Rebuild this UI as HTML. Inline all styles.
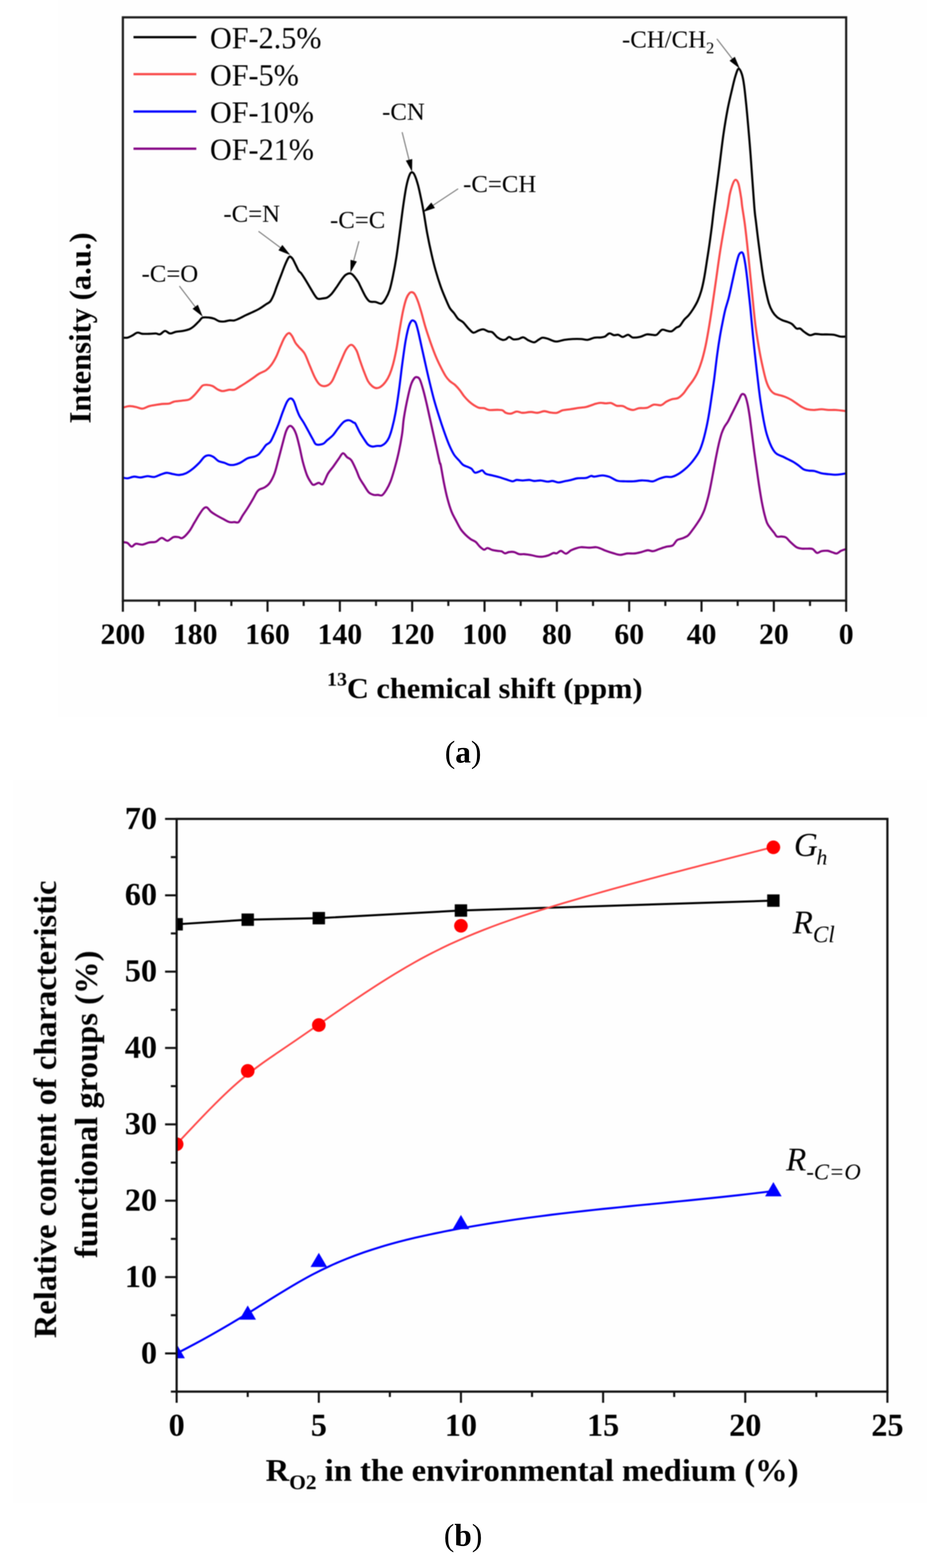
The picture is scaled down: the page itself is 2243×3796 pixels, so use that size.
<!DOCTYPE html>
<html lang="en"><head><meta charset="utf-8"><title>13C NMR spectra and functional group content</title>
<style>
html,body{margin:0;padding:0;background:#fff;}
body{width:2243px;height:3796px;overflow:hidden;}
svg{display:block;}
text{font-family:"Liberation Serif","Times New Roman",serif;fill:#000;}
.b{font-weight:bold;}
.i{font-style:italic;}
.cap{font-family:"Liberation Serif","DejaVu Serif",serif;}
</style></head><body>
<svg width="2243" height="3796" viewBox="0 0 2243 3796" role="img" aria-label="Figure: 13C NMR spectra (a) and relative content of characteristic functional groups (b)">
<rect x="0" y="0" width="2243" height="3796" fill="#ffffff"/>
<rect x="141" y="0" width="2102" height="1737" fill="#fefefe"/>
<rect x="32" y="1888" width="2211" height="1750" fill="#fefefe"/>
<defs><filter id="soft" filterUnits="userSpaceOnUse" x="0" y="0" width="2243" height="3796" color-interpolation-filters="sRGB"><feGaussianBlur stdDeviation="0.8"/></filter></defs>
<g id="chart-a" filter="url(#soft)">
<clipPath id="clipA"><rect x="297.3" y="42" width="1750.1" height="1412"/></clipPath>
<g clip-path="url(#clipA)" fill="none" stroke-width="5.1" stroke-linejoin="round" stroke-linecap="round">
<path d="M296.2 1312.4C298.2 1312.7 304.6 1312.6 308.3 1314.4C312 1316.2 315 1323 318.4 1323.3C321.8 1323.7 324.1 1317.3 328.5 1316.4C332.9 1315.6 339.3 1319 344.7 1318.5C350.1 1317.9 355.5 1314.4 360.9 1313.2C366.3 1312.1 372 1313.4 377 1311.6C382.1 1309.8 386.5 1302.7 391.2 1302.3C395.9 1301.9 400.6 1309.5 405.3 1309.2C410.1 1308.8 415.1 1301.8 419.5 1300.3C423.9 1298.8 427.9 1299.9 431.6 1300.3C435.3 1300.6 437.3 1304.6 441.7 1302.3C446.1 1299.9 453.2 1292.2 457.9 1286.1C462.6 1280.1 466 1272.6 470 1265.9C474.1 1259.2 478.5 1251.4 482.2 1245.7C485.9 1240 489.2 1234.4 492.3 1231.5C495.3 1228.6 497.3 1227.1 500.4 1228.3C503.4 1229.5 506.8 1235.7 510.5 1238.8C514.2 1241.9 517.9 1244.1 522.6 1246.9C527.3 1249.7 533.4 1253 538.8 1255.8C544.2 1258.6 550.2 1262.5 554.9 1263.9C559.6 1265.2 563.4 1263.9 567.1 1263.9C570.8 1263.9 573.8 1266.6 577.2 1263.9C580.5 1261.2 583.6 1253.4 587.3 1247.7C591 1242 595.4 1235.9 599.4 1229.5C603.5 1223.1 607.8 1215.7 611.5 1209.3C615.2 1202.9 618.9 1195.1 621.6 1191.1C624.3 1187.1 624.7 1186.9 627.7 1185C630.7 1183.2 635.8 1182.7 639.8 1180.2C643.9 1177.7 647.9 1175.7 652 1170.1C656 1164.5 660.4 1156.6 664.1 1146.6C667.8 1136.7 670.8 1122.7 674.2 1110.2C677.6 1097.8 681.3 1083 684.3 1071.8C687.3 1060.7 689.7 1050.3 692.4 1043.5C695.1 1036.8 697.8 1032.7 700.5 1031.4C703.2 1030.1 705.9 1032.1 708.6 1035.4C711.3 1038.8 714 1043.9 716.7 1051.6C719.4 1059.4 722 1070.8 724.7 1081.9C727.4 1093.1 729.8 1106.9 732.8 1118.3C735.9 1129.8 739.6 1142.3 742.9 1150.7C746.3 1159.1 750.4 1165 753 1168.9C755.7 1172.7 756.1 1173.7 759.1 1173.7C762.1 1173.7 767.5 1169.2 771.2 1168.9C774.9 1168.5 777.6 1175.4 781.3 1171.7C785.1 1168 789.4 1153.5 793.5 1146.6C797.5 1139.8 801.2 1136.5 805.6 1130.5C810 1124.4 815.7 1115.8 819.8 1110.2C823.8 1104.7 826.5 1097.8 829.9 1097.3C833.2 1096.8 836.6 1104.2 840 1107C843.3 1109.8 846.4 1109 850.1 1114.3C853.8 1119.5 858.9 1131.3 862.2 1138.5C865.5 1145.8 867.1 1151.8 870.1 1157.7C873.1 1163.6 876.5 1168.1 880.2 1173.9C883.9 1179.6 888.3 1188 892.3 1192C896.4 1196.1 900.8 1197.1 904.5 1198.1C908.2 1199.1 911.2 1198 914.6 1198.1C918 1198.2 921.3 1200.9 924.7 1198.9C928.1 1196.9 931.4 1191.5 934.8 1186C938.2 1180.5 941.5 1174.5 944.9 1165.8C948.3 1157 951.6 1145.6 955 1133.4C958.4 1121.3 962.1 1107.1 965.1 1093C968.2 1078.8 971.2 1062.1 973.2 1048.5C975.2 1034.9 974.9 1026.5 977.3 1011.5C979.6 996.6 984.3 972.8 987.4 959C990.4 945.2 992.7 936.1 995.4 928.7C998.1 921.2 1001.2 917.1 1003.5 914.5C1005.9 911.9 1007.6 912.6 1009.6 913.3C1011.6 914 1013.3 913.6 1015.7 918.5C1018 923.5 1021.1 933.4 1023.7 942.8C1026.4 952.2 1029.1 963.7 1031.8 975.1C1034.5 986.6 1037.2 999.4 1039.9 1011.5C1042.6 1023.7 1045.3 1035.8 1048 1047.9C1050.7 1060.1 1053.4 1072.2 1056.1 1084.3C1058.8 1096.4 1062.5 1113.9 1064.2 1120.7C1065.9 1127.5 1064.5 1117.2 1066.2 1125.3C1067.9 1133.5 1071.6 1156.3 1074.3 1169.8C1077 1183.3 1079.3 1194.7 1082.4 1206.2C1085.4 1217.7 1089.1 1229.8 1092.5 1238.5C1095.8 1247.3 1098.9 1251.7 1102.6 1258.8C1106.3 1265.8 1110.7 1274.9 1114.7 1281C1118.8 1287.1 1122.8 1291.1 1126.8 1295.1C1130.9 1299.2 1134.9 1302.4 1139 1305.3C1143 1308.1 1147.4 1309.1 1151.1 1312.1C1154.8 1315.2 1157.8 1320.4 1161.2 1323.5C1164.6 1326.5 1168.3 1330.2 1171.3 1330.7C1174.4 1331.3 1176 1326.5 1179.4 1326.7C1182.8 1326.8 1187.5 1330.4 1191.5 1331.5C1195.6 1332.7 1200 1333 1203.7 1333.6C1207.4 1334.1 1210.7 1333.8 1213.8 1334.8C1216.8 1335.8 1218.8 1339.4 1221.9 1339.6C1224.9 1339.9 1228.3 1336.9 1232 1336.4C1235.7 1335.8 1240.1 1335.5 1244.1 1336.4C1248.1 1337.3 1252.2 1340.8 1256.2 1341.6C1260.3 1342.5 1263.6 1341.3 1268.4 1341.6C1273.1 1342 1279.5 1342.8 1284.5 1343.7C1289.6 1344.5 1294 1346.2 1298.7 1346.9C1303.4 1347.6 1308.1 1348.1 1312.8 1347.7C1317.5 1347.3 1322.6 1346 1327 1344.5C1331.4 1343 1335.7 1339.6 1339.1 1338.8C1342.5 1338 1344.2 1340.5 1347.2 1339.6C1350.2 1338.7 1353.6 1333.4 1357.3 1333.6C1361 1333.7 1365.4 1340.6 1369.4 1340.4C1373.5 1340.2 1377.5 1334.5 1381.6 1332.3C1385.6 1330.2 1389.6 1328.8 1393.7 1327.5C1397.7 1326.2 1400.4 1324.9 1405.8 1324.7C1411.2 1324.4 1420 1325.9 1426 1325.9C1432.1 1325.9 1437.7 1324.3 1442.2 1324.7C1446.7 1325 1449 1326.4 1452.9 1327.8C1456.9 1329.3 1460.8 1331.6 1465.9 1333.4C1470.9 1335.3 1477.4 1337.4 1483.1 1339C1488.9 1340.7 1494.6 1343.2 1500.4 1343.3C1506.1 1343.5 1511.9 1340.5 1517.6 1339.9C1523.4 1339.3 1529.1 1340.5 1534.9 1339.9C1540.6 1339.3 1546.7 1337.7 1552.1 1336.4C1557.5 1335.1 1562.6 1332.5 1567.2 1332.1C1571.9 1331.8 1575.5 1334.8 1580.2 1334.3C1584.8 1333.8 1589.9 1330.9 1595.3 1329.1C1600.6 1327.3 1607.1 1324.9 1612.5 1323.5C1617.9 1322.1 1623.3 1323.1 1627.6 1320.5C1631.9 1317.8 1634.4 1310.4 1638.4 1307.5C1642.3 1304.7 1647 1305 1651.3 1303.2C1655.6 1301.4 1660.3 1300 1664.3 1296.8C1668.2 1293.5 1671.4 1288.5 1675 1283.8C1678.6 1279.2 1682.2 1274.1 1685.8 1268.7C1689.4 1263.3 1693.4 1257.6 1696.6 1251.5C1699.8 1245.4 1702.4 1240.3 1705.2 1232.1C1708.1 1223.8 1711.3 1211.9 1713.9 1201.9C1716.4 1191.8 1718.2 1182.5 1720.3 1171.7C1722.5 1160.9 1724.6 1148.7 1726.8 1137.2C1728.9 1125.7 1731.1 1113.5 1733.3 1102.7C1735.4 1091.9 1737.6 1081.5 1739.7 1072.5C1741.9 1063.5 1744 1055.3 1746.2 1048.8C1748.4 1042.3 1750.2 1038.4 1752.7 1033.7C1755.2 1029 1758.4 1025.8 1761.3 1020.8C1764.2 1015.7 1767 1009.3 1769.9 1003.5C1772.8 997.8 1775.7 992 1778.5 986.3C1781.4 980.5 1784.7 974 1787.2 969C1789.7 964 1791.8 958.6 1793.6 956.1C1795.4 953.5 1796.4 953.5 1798 953.9C1799.5 954.3 1801.3 954.3 1803.1 958.2C1804.9 962.2 1806.9 969.4 1808.7 977.6C1810.5 985.9 1812.1 995.6 1813.9 1007.8C1815.7 1020 1817.6 1036.6 1819.5 1050.9C1821.4 1065.3 1823.2 1079.7 1825.1 1094.1C1827.1 1108.4 1829.2 1123.5 1831.2 1137.2C1833.1 1150.9 1834.8 1163.1 1836.8 1176C1838.8 1188.9 1841.1 1203.3 1843.2 1214.8C1845.4 1226.3 1847.5 1236.4 1849.7 1245C1851.9 1253.6 1853.7 1260.8 1856.2 1266.6C1858.7 1272.3 1861.9 1275.6 1864.8 1279.5C1867.7 1283.5 1870.9 1287.1 1873.4 1290.3C1875.9 1293.5 1877 1297.5 1879.9 1298.9C1882.8 1300.4 1887.1 1298.6 1890.7 1298.9C1894.3 1299.3 1897.9 1298.9 1901.5 1301.1C1905 1303.2 1907.9 1307.9 1912.2 1311.9C1916.5 1315.8 1922.7 1322.1 1927.3 1324.8C1932 1327.5 1936 1327.7 1940.3 1328.2C1944.6 1328.8 1948.9 1328.1 1953.2 1328.2C1957.5 1328.4 1962.2 1327.4 1966.1 1329.1C1970.1 1330.8 1973.3 1337.7 1976.9 1338.6C1980.5 1339.5 1983.4 1335.1 1987.7 1334.3C1992 1333.4 1998.5 1333 2002.8 1333.4C2007.1 1333.9 2010 1335.8 2013.6 1336.9C2017.2 1338 2020.8 1340.5 2024.4 1339.9C2028 1339.3 2031.3 1335.2 2035.1 1333.4C2039 1331.6 2045.2 1329.8 2047.2 1329.1" stroke="#850585"/>
<path d="M296.2 1155.9C298.2 1156.3 303.6 1158.3 308.3 1158C313 1157.6 319.1 1154.2 324.5 1153.9C329.9 1153.6 335.3 1156.1 340.6 1155.9C346 1155.7 351.4 1152.9 356.8 1152.7C362.2 1152.5 367.6 1155.4 373 1154.7C378.4 1154 384.1 1150.3 389.2 1148.7C394.2 1147 398.6 1144.8 403.3 1144.6C408 1144.4 412.4 1146.6 417.5 1147.4C422.5 1148.3 428.2 1150.1 433.6 1149.9C439 1149.6 444.4 1148.2 449.8 1145.8C455.2 1143.4 460.6 1139.6 466 1135.3C471.4 1131.1 477.4 1125.2 482.2 1120.4C486.9 1115.5 490.6 1109.2 494.3 1106.2C498 1103.2 500.7 1102.2 504.4 1102.2C508.1 1102.2 512.5 1103.8 516.5 1106.2C520.6 1108.6 524.3 1113.9 528.7 1116.3C533 1118.7 538.4 1118.9 542.8 1120.4C547.2 1121.8 550.9 1124.4 554.9 1125.2C559 1126 562.7 1126 567.1 1125.2C571.4 1124.4 575.8 1123 581.2 1120.4C586.6 1117.7 593.7 1111.9 599.4 1109.4C605.1 1106.9 611.2 1106.9 615.6 1105.4C620 1103.8 622.3 1103 625.7 1100.1C629.1 1097.2 632.8 1091.8 635.8 1088C638.8 1084.2 640.8 1080.1 643.9 1077.1C646.9 1074.1 650.6 1074.4 654 1069.8C657.4 1065.2 660.7 1057 664.1 1049.6C667.5 1042.2 670.8 1034.1 674.2 1025.3C677.6 1016.6 680.9 1005.8 684.3 997C687.7 988.3 691.4 978.2 694.4 972.8C697.5 967.4 699.8 965 702.5 964.7C705.2 964.4 707.9 966 710.6 970.8C713.3 975.5 716.3 986.9 718.7 993C721 999.1 722 1002.1 724.7 1007.1C727.4 1012.2 731.5 1017.6 734.9 1023.3C738.2 1029 741.3 1034.8 745 1041.5C748.7 1048.2 753.7 1058 757.1 1063.7C760.5 1069.5 761.1 1074.1 765.2 1075.9C769.2 1077.7 777 1076.3 781.3 1074.7C785.7 1073 787.4 1069.3 791.5 1065.8C795.5 1062.3 801.2 1058.4 805.6 1053.6C810 1048.9 813.4 1042.9 817.7 1037.5C822.1 1032.1 827.5 1024.7 831.9 1021.3C836.3 1017.9 840 1016.9 844 1017.3C848.1 1017.6 853.5 1021.9 856.1 1023.3C858.8 1024.7 857.7 1021.9 860 1025.7C862.3 1029.5 866.7 1039.8 870.1 1045.9C873.5 1052 876.8 1057 880.2 1062.1C883.6 1067.1 887 1073.1 890.3 1076.2C893.7 1079.4 896.7 1080.5 900.4 1081.1C904.1 1081.6 908.9 1079.8 912.6 1079.5C916.3 1079.1 919.3 1080.3 922.7 1079.1C926 1077.8 929.7 1075.4 932.8 1072.2C935.8 1069 938.2 1066.1 940.9 1060.1C943.6 1054 946.3 1045.9 948.9 1035.8C951.6 1025.7 954.3 1014.2 957 999.4C959.7 984.6 962.4 966.4 965.1 946.8C967.8 927.3 970.5 902.4 973.2 882.2C975.9 861.9 978.6 841.1 981.3 825.6C984 810.1 987 797.3 989.4 789.2C991.7 781.1 993.8 779.3 995.4 777C997.1 774.8 997.8 775.1 999.5 775.8C1001.2 776.5 1003.5 776.8 1005.6 781.1C1007.6 785.3 1009.3 791.9 1011.6 801.3C1014 810.7 1017 825.6 1019.7 837.7C1022.4 849.8 1024.8 860.6 1027.8 874.1C1030.8 887.5 1034.2 903 1037.9 918.5C1041.6 934 1046 952.2 1050 967.1C1054.1 981.9 1058.1 994.7 1062.2 1007.5C1066.2 1020.3 1070.2 1032.4 1074.3 1043.9C1078.3 1055.3 1082.4 1066.8 1086.4 1076.2C1090.5 1085.7 1094.5 1094.1 1098.5 1100.5C1102.6 1106.9 1107 1110.5 1110.7 1114.6C1114.4 1118.8 1117.1 1122.9 1120.8 1125.6C1124.5 1128.2 1129.5 1129.3 1132.9 1130.8C1136.3 1132.4 1138.3 1132.6 1141 1134.9C1143.7 1137.1 1146.1 1143 1149.1 1144.2C1152.1 1145.3 1156.2 1142.6 1159.2 1141.7C1162.2 1140.8 1164.6 1138 1167.3 1138.9C1170 1139.8 1171.3 1145 1175.4 1147C1179.4 1149 1186.1 1149.7 1191.5 1151C1196.9 1152.4 1202.3 1153.5 1207.7 1155.1C1213.1 1156.6 1218.5 1158.6 1223.9 1160.3C1229.3 1162 1235.7 1164.9 1240.1 1165.2C1244.4 1165.4 1246.1 1162.3 1250.2 1161.9C1254.2 1161.6 1259.3 1163.2 1264.3 1163.2C1269.4 1163.2 1275.8 1161.7 1280.5 1161.9C1285.2 1162.1 1287.9 1164.2 1292.6 1164.4C1297.3 1164.6 1303.4 1162.9 1308.8 1163.2C1314.2 1163.4 1320.2 1165.8 1325 1166C1329.7 1166.2 1332.7 1164 1337.1 1164.4C1341.5 1164.7 1346.5 1167.9 1351.2 1168C1356 1168.1 1360.3 1166.2 1365.4 1165.2C1370.4 1164.2 1376.2 1163.2 1381.6 1161.9C1387 1160.7 1391.7 1158.7 1397.7 1157.9C1403.8 1157.1 1412.6 1158 1418 1157.1C1423.3 1156.1 1426.7 1152.8 1430.1 1152.2C1433.5 1151.7 1433.6 1154.1 1438.2 1153.9C1442.7 1153.6 1451.2 1150.9 1457.3 1151C1463.3 1151.1 1468.4 1152.3 1474.5 1154.4C1480.6 1156.6 1487.4 1162.1 1493.9 1163.9C1500.4 1165.7 1506.8 1165 1513.3 1165.2C1519.8 1165.4 1526.3 1165.6 1532.7 1165.2C1539.2 1164.9 1546.4 1163.3 1552.1 1163.1C1557.9 1162.9 1562.6 1163.6 1567.2 1163.9C1571.9 1164.3 1575.5 1166.1 1580.2 1165.2C1584.8 1164.4 1590.2 1160.6 1595.3 1158.8C1600.3 1157 1605.3 1155.2 1610.4 1154.4C1615.4 1153.7 1620.4 1155.5 1625.4 1154.4C1630.5 1153.4 1635.5 1150.9 1640.5 1148C1645.6 1145.1 1651 1141 1655.6 1137.2C1660.3 1133.4 1664.3 1129.8 1668.6 1125.1C1672.9 1120.4 1677.6 1114.7 1681.5 1109.2C1685.5 1103.6 1689.1 1098.7 1692.3 1091.9C1695.5 1085.1 1698 1077.9 1700.9 1068.2C1703.8 1058.5 1707 1045.2 1709.5 1033.7C1712.1 1022.2 1713.9 1012.1 1716 999.2C1718.2 986.3 1720.5 969.7 1722.5 956.1C1724.5 942.4 1725.9 933.6 1728.1 917.3C1730.2 900.9 1733.1 875 1735.4 858C1737.7 840.9 1739.7 827.8 1741.9 814.8C1744 801.9 1746.2 791.1 1748.4 780.3C1750.5 769.5 1752.3 760.2 1754.8 750.1C1757.3 740.1 1760.6 731.4 1763.5 719.9C1766.3 708.4 1769.2 694.1 1772.1 681.1C1775 668.2 1778.2 652.7 1780.7 642.3C1783.2 631.9 1785.2 623.8 1787.2 618.6C1789.2 613.4 1791 612 1792.8 611.3C1794.6 610.5 1796.2 609.8 1798 614.3C1799.7 618.7 1801.3 626.9 1803.1 638C1804.9 649.1 1806.7 663.9 1808.7 681.1C1810.7 698.4 1813 719.9 1815.2 741.5C1817.4 763.1 1819.5 788.9 1821.7 810.5C1823.8 832.1 1825.8 849.5 1828.1 870.9C1830.5 892.3 1833.7 921 1835.9 938.8C1838.1 956.6 1839.1 964.7 1841.1 977.6C1843 990.6 1845.4 1004.9 1847.5 1016.4C1849.7 1027.9 1851.5 1037.3 1854 1046.6C1856.5 1056 1859.8 1065.3 1862.6 1072.5C1865.5 1079.7 1868.4 1085.3 1871.3 1089.8C1874.1 1094.2 1876.3 1096.7 1879.9 1099.2C1883.5 1101.8 1888.5 1102.8 1892.8 1104.9C1897.1 1106.9 1901.5 1109.2 1905.8 1111.3C1910.1 1113.5 1914.4 1115.3 1918.7 1117.8C1923 1120.3 1927.3 1123.3 1931.6 1126.4C1936 1129.5 1940.3 1134.2 1944.6 1136.3C1948.9 1138.5 1953.2 1138.7 1957.5 1139.4C1961.8 1140 1965.4 1139.1 1970.5 1140.2C1975.5 1141.3 1982 1144.5 1987.7 1145.8C1993.5 1147.1 1999.2 1147.4 2005 1148C2010.7 1148.6 2017.2 1149.3 2022.2 1149.3C2027.2 1149.3 2031 1148.6 2035.1 1148C2039.3 1147.4 2045.2 1146.2 2047.2 1145.8" stroke="#0000ff"/>
<path d="M296.2 987.2C298.9 986.5 307 983.5 312.3 983.2C317.7 982.8 323.1 984.2 328.5 985.2C333.9 986.2 339.3 989.6 344.7 989.2C350.1 988.9 355.5 984.6 360.9 983.2C366.3 981.7 371.6 981.2 377 980.3C382.4 979.4 387.8 978.4 393.2 977.9C398.6 977.4 404.7 978 409.4 977.1C414.1 976.1 416.1 973.5 421.5 972.2C426.9 971 435.7 970.7 441.7 969.8C447.8 968.9 453.2 969.1 457.9 967C462.6 964.8 466 960.9 470 956.9C474.1 952.8 478.8 946.6 482.2 942.7C485.5 938.8 487.2 935.2 490.2 933.4C493.3 931.6 496.3 931.6 500.4 931.8C504.4 932 510.1 932.8 514.5 934.6C518.9 936.5 522.6 940.7 526.6 942.7C530.7 944.7 534 946.6 538.8 946.8C543.5 946.9 550.2 944.1 554.9 943.5C559.6 943 563 944.7 567.1 943.5C571.1 942.4 574.5 939.5 579.2 936.7C583.9 933.8 590 930.1 595.4 926.5C600.8 923 606.1 919.3 611.5 915.6C616.9 911.9 622.3 907.5 627.7 904.3C633.1 901.1 639.2 899.6 643.9 896.2C648.6 892.9 652 889.5 656 884.1C660.1 878.7 664.4 871.3 668.1 863.9C671.8 856.5 674.9 847.4 678.2 839.6C681.6 831.9 685 822.9 688.4 817.4C691.7 811.9 695.4 807.1 698.5 806.5C701.5 805.8 703.9 809.5 706.5 813.3C709.2 817.2 711.9 825.1 714.6 829.5C717.3 833.9 719 835.2 722.7 839.6C726.4 844 732.5 848.4 736.9 855.8C741.3 863.2 745 874.7 749 884.1C753 893.5 757.4 905 761.1 912.4C764.8 919.8 767.9 924.9 771.2 928.6C774.6 932.3 777.6 934 781.3 934.6C785.1 935.3 789.8 934.6 793.5 932.6C797.2 930.6 800.2 927.9 803.6 922.5C807 917.1 810 908.7 813.7 900.3C817.4 891.8 821.8 881.1 825.8 872C829.9 862.9 833.9 851.9 838 845.7C842 839.5 846 834.4 850.1 834.8C854.1 835.1 858.9 841.8 862.2 847.7C865.5 853.6 867.1 861.6 870.1 870C873.1 878.5 876.8 889.6 880.2 898.3C883.6 907.1 887 916.5 890.3 922.6C893.7 928.7 897.1 931.9 900.4 934.7C903.8 937.5 907.2 939.2 910.5 939.6C913.9 939.9 916.9 939.2 920.6 936.7C924.4 934.2 929.1 929.7 932.8 924.6C936.5 919.6 939.9 913.5 942.9 906.4C945.9 899.3 948.3 892.3 951 882.2C953.7 872 956.4 859.9 959.1 845.8C961.8 831.6 964.4 812.7 967.1 797.3C969.8 781.8 972.5 765.2 975.2 752.8C977.9 740.3 980.6 729.7 983.3 722.5C986 715.2 989 711.6 991.4 709.1C993.8 706.6 995.4 707 997.5 707.5C999.5 708 1001.2 708.5 1003.5 712.3C1005.9 716.2 1008.9 723.1 1011.6 730.5C1014.3 738 1016.7 746.4 1019.7 756.8C1022.7 767.3 1026.1 781.1 1029.8 793.2C1033.5 805.3 1037.9 818.1 1041.9 829.6C1046 841.1 1050 852.2 1054.1 861.9C1058.1 871.7 1062.2 880.1 1066.2 888.2C1070.2 896.3 1074.6 904.7 1078.3 910.5C1082 916.2 1084.7 919.1 1088.4 922.6C1092.1 926.1 1096.5 927.8 1100.6 931.5C1104.6 935.2 1109 940.2 1112.7 944.8C1116.4 949.4 1119.1 954.5 1122.8 959C1126.5 963.5 1130.9 968.2 1134.9 971.9C1139 975.6 1143 978.7 1147.1 981.2C1151.1 983.8 1155.1 986.1 1159.2 987.3C1163.2 988.4 1167.3 987.2 1171.3 988.1C1175.4 989 1178.1 991.9 1183.5 992.5C1188.8 993.2 1198.3 992 1203.7 992.1C1209.1 992.3 1212.4 992.1 1215.8 993.3C1219.2 994.6 1220.5 998.1 1223.9 999.4C1227.3 1000.8 1231.6 1002 1236 1001.4C1240.4 1000.9 1245.4 996.5 1250.2 996.2C1254.9 995.8 1258.6 999.2 1264.3 999.4C1270 999.6 1278.5 997.4 1284.5 997.4C1290.6 997.4 1295.3 999.7 1300.7 999.4C1306.1 999.1 1311.8 995.5 1316.9 995.4C1321.9 995.2 1326 997.9 1331 998.6C1336.1 999.3 1342.1 1000.3 1347.2 999.4C1352.3 998.5 1355.6 994.8 1361.3 993.3C1367.1 991.9 1374.8 991.5 1381.6 990.5C1388.3 989.5 1395.7 988.2 1401.8 987.3C1407.8 986.4 1412.6 986.5 1418 985.3C1423.3 984 1430.4 981.2 1434.1 980C1437.8 978.8 1436.9 978.6 1440 977.8C1443.1 977.1 1448.6 975.5 1452.9 975.3C1457.3 975 1461.6 976.5 1465.9 976.5C1470.2 976.6 1474.5 974.8 1478.8 975.7C1483.1 976.6 1487.1 980.9 1491.8 982.2C1496.4 983.4 1502.2 981.8 1506.8 983C1511.5 984.2 1515.5 987.9 1519.8 989.5C1524.1 991.1 1528.4 992.7 1532.7 992.5C1537 992.3 1540.3 989.1 1545.7 988.2C1551.1 987.3 1559 988.8 1565.1 987.3C1571.2 985.9 1576.6 980.6 1582.3 979.6C1588.1 978.5 1594.5 982.1 1599.6 980.9C1604.6 979.6 1608.2 974.6 1612.5 972.2C1616.8 969.9 1620.8 968.1 1625.4 966.6C1630.1 965.2 1635.9 965.9 1640.5 963.6C1645.2 961.3 1649.5 957.1 1653.5 952.8C1657.4 948.5 1660.3 943.1 1664.3 937.7C1668.2 932.3 1673.2 926.6 1677.2 920.5C1681.2 914.4 1684.4 909.3 1688 901.1C1691.6 892.8 1695.5 881.7 1698.8 870.9C1702 860.1 1704.5 850 1707.4 836.4C1710.3 822.7 1713.1 806.2 1716 788.9C1718.9 771.7 1721.8 752.3 1724.6 732.9C1727.5 713.5 1730.4 692.6 1733.3 672.5C1736.1 652.4 1739 630.8 1741.9 612.1C1744.8 593.4 1747.3 579.1 1750.5 560.4C1753.7 541.7 1758.7 515.1 1761.3 500C1763.9 484.9 1763.9 479.1 1766 469.6C1768.1 460.1 1771.6 448.9 1773.9 443.2C1776.3 437.5 1778.1 434.9 1780.3 435.3C1782.5 435.7 1784.9 438.4 1787.1 445.8C1789.3 453.3 1792 471.1 1793.5 480.1C1794.9 489.2 1794.3 489.5 1795.8 500C1797.3 510.5 1800.1 526.6 1802.3 543.1C1804.4 559.7 1806.6 579.1 1808.7 599.2C1810.9 619.3 1813 642.3 1815.2 663.9C1817.4 685.4 1819.5 707.7 1821.7 728.6C1823.8 749.4 1825.6 769.5 1828.1 788.9C1830.7 808.4 1833.9 828.5 1836.8 845C1839.6 861.5 1842.5 875.2 1845.4 888.1C1848.3 901.1 1851.1 913.7 1854 922.6C1856.9 931.6 1859.4 937 1862.6 942C1865.9 947.1 1869.1 950.3 1873.4 952.8C1877.7 955.3 1883.8 955.7 1888.5 957.1C1893.2 958.6 1897.1 959.7 1901.5 961.5C1905.8 963.3 1910.1 965.4 1914.4 967.9C1918.7 970.4 1923 973.7 1927.3 976.5C1931.6 979.4 1936 982.8 1940.3 985.2C1944.6 987.5 1948.5 989.6 1953.2 990.8C1957.9 992 1962.6 992.5 1968.3 992.5C1974.1 992.5 1981.6 990.8 1987.7 990.8C1993.8 990.8 1999.2 992.2 2005 992.5C2010.7 992.8 2015.2 992.1 2022.2 992.5C2029.3 992.9 2043.1 994.7 2047.2 995.1" stroke="#f94a4a"/>
<path d="M296.2 817.4C298.2 817.4 304.3 818.3 308.3 817.4C312.3 816.5 316.4 814.2 320.4 812.1C324.5 810.1 328.5 805.9 332.6 805.3C336.6 804.6 340 807.6 344.7 808.1C349.4 808.6 355.5 808.2 360.9 808.1C366.3 808 372.7 807.1 377 807.3C381.4 807.5 383.4 810.3 387.1 809.3C390.8 808.3 395.2 801.5 399.3 801.2C403.3 800.9 407 806.9 411.4 807.3C415.8 807.6 420.5 804.2 425.6 803.2C430.6 802.2 436.3 802.2 441.7 801.2C447.1 800.2 453.2 799.2 457.9 797.2C462.6 795.1 466 792.5 470 789.1C474.1 785.7 478.8 780.3 482.2 777C485.5 773.6 486.2 770.2 490.2 768.9C494.3 767.5 501.7 768.4 506.4 768.9C511.1 769.3 514.5 770.2 518.5 771.7C522.6 773.2 526.6 776.7 530.7 777.8C534.7 778.8 538.8 778.5 542.8 778.2C546.8 777.8 550.9 776.1 554.9 775.7C559 775.3 563 776.5 567.1 775.7C571.1 774.9 574.5 773 579.2 770.9C583.9 768.7 590 765.4 595.4 762.8C600.8 760.2 606.1 758.1 611.5 755.5C616.9 753 622.3 750.6 627.7 747.4C633.1 744.3 639.5 739.5 643.9 736.5C648.3 733.6 651 733.4 654 729.6C657 725.9 659.4 720.6 662.1 714.3C664.8 708 667.1 700.1 670.2 692C673.2 684 676.9 674.5 680.3 665.8C683.6 657 687.3 646.6 690.4 639.5C693.4 632.4 696.4 626.3 698.5 623.3C700.5 620.3 700.8 620.6 702.5 621.3C704.2 622 706.2 623.7 708.6 627.4C710.9 631.1 714.3 638.8 716.7 643.5C719 648.2 720.7 652.6 722.7 655.7C724.7 658.7 726.4 658.7 728.8 661.7C731.1 664.8 733.5 668.5 736.9 673.9C740.2 679.2 745 687.3 749 694.1C753 700.8 757.8 709.4 761.1 714.3C764.5 719.1 765.8 721.8 769.2 723.2C772.6 724.5 777.6 722.8 781.3 722.4C785.1 721.9 788.1 722 791.5 720.4C794.8 718.7 797.9 716.3 801.6 712.3C805.3 708.2 809.6 701.8 813.7 696.1C817.7 690.4 822.1 683 825.8 677.9C829.5 672.8 832.6 668.5 835.9 665.8C839.3 663.1 843 661.7 846 661.7C849.1 661.7 850.8 662.4 854.1 665.8C857.5 669.1 863.3 677.3 866.3 681.9C869.3 686.5 869.1 687.4 872.1 693.3C875.1 699.3 880.6 711.5 884.3 717.6C888 723.7 890.3 727.5 894.4 729.7C898.4 732 903.8 730.1 908.5 730.9C913.2 731.8 918.6 736.2 922.7 735C926.7 733.8 929.4 729.3 932.8 723.7C936.1 718.1 939.9 710.9 942.9 701.4C945.9 692 948.3 680.2 951 667.1C953.7 653.9 956.4 639.8 959.1 622.6C961.8 605.4 964.4 584.2 967.1 564C969.8 543.7 972.5 520.2 975.2 501.3C977.9 482.4 980.6 463.9 983.3 450.8C986 437.6 989 428 991.4 422.5C993.8 416.9 995.4 416.9 997.5 417.2C999.5 417.5 1001.2 419.2 1003.5 424.5C1005.9 429.7 1008.9 438.6 1011.6 448.7C1014.3 458.8 1017.3 473.7 1019.7 485.1C1022.1 496.6 1023.4 504 1025.8 517.5C1028.1 530.9 1030.8 549.8 1033.9 566C1036.9 582.2 1040.6 599.7 1044 614.5C1047.3 629.3 1050.4 641.8 1054.1 654.9C1057.8 668.1 1062.2 681.9 1066.2 693.3C1070.2 704.8 1074.6 714.9 1078.3 723.7C1082 732.4 1085.1 740.2 1088.4 745.9C1091.8 751.6 1095.2 753.7 1098.5 758C1101.9 762.4 1104.9 768.5 1108.7 772.2C1112.4 775.9 1116.7 776.6 1120.8 780.3C1124.8 784 1128.9 790.2 1132.9 794.4C1137 798.6 1141 804.3 1145 805.3C1149.1 806.3 1153.1 801.8 1157.2 800.5C1161.2 799.1 1165.3 796.9 1169.3 797.3C1173.3 797.6 1177.7 801.3 1181.4 802.5C1185.1 803.7 1187.8 802.2 1191.5 804.5C1195.2 806.9 1199.6 813.6 1203.7 816.7C1207.7 819.7 1212.4 821.9 1215.8 822.7C1219.2 823.5 1221.2 822.7 1223.9 821.5C1226.6 820.4 1228.9 815.8 1232 815.8C1235 815.8 1238.4 820.7 1242.1 821.5C1245.8 822.3 1250.2 821.5 1254.2 820.7C1258.2 819.9 1262.3 816.1 1266.3 816.7C1270.4 817.2 1274.1 821.9 1278.5 823.9C1282.8 826 1288.6 829 1292.6 828.8C1296.7 828.6 1299.4 824.6 1302.7 822.7C1306.1 820.8 1309.1 817.9 1312.8 817.5C1316.5 817 1319.6 818.3 1325 819.9C1330.4 821.4 1338.4 826.3 1345.2 826.8C1351.9 827.2 1358.7 823.7 1365.4 822.7C1372.1 821.7 1378.9 821 1385.6 820.7C1392.3 820.4 1399.8 820.4 1405.8 820.7C1411.9 821 1416.6 823.3 1422 822.7C1427.4 822.2 1433 818.4 1438.2 817.5C1443.3 816.5 1448.7 817.4 1452.9 817C1457.2 816.5 1460.1 816.5 1463.7 814.8C1467.3 813.2 1470.9 807.6 1474.5 807.1C1478.1 806.5 1481.7 810.8 1485.3 811.4C1488.9 811.9 1492.5 809.8 1496.1 810.5C1499.7 811.2 1502.9 815.7 1506.8 815.7C1510.8 815.7 1515.8 810.3 1519.8 810.5C1523.7 810.7 1525.9 816.1 1530.6 817C1535.2 817.8 1542.1 816.9 1547.8 815.7C1553.6 814.5 1560 810.5 1565.1 809.6C1570.1 808.8 1574.1 810.4 1578 810.5C1582 810.7 1584.8 812.5 1588.8 810.5C1592.7 808.5 1597.4 800 1601.7 798.4C1606 796.9 1610.7 800.4 1614.7 801C1618.6 801.6 1621.9 803.2 1625.4 801.9C1629 800.6 1633 795.4 1636.2 793.3C1639.5 791.1 1641.6 792.2 1644.9 788.9C1648.1 785.7 1652 778.2 1655.6 773.9C1659.2 769.5 1662.8 767.4 1666.4 763.1C1670 758.8 1673.6 753.7 1677.2 748C1680.8 742.2 1684.7 735.8 1688 728.6C1691.2 721.4 1693.9 714.2 1696.6 704.9C1699.3 695.5 1701.6 685.1 1703.9 672.5C1706.3 659.9 1708.6 643.8 1710.8 629.4C1713.1 615 1715.4 599.9 1717.3 586.3C1719.2 572.6 1720.7 561.8 1722.5 547.4C1724.3 533.1 1725.2 522.6 1728.1 500C1730.9 477.4 1736 440.4 1739.6 411.5C1743.3 382.7 1746.7 351.8 1750.2 327.1C1753.7 302.5 1757.2 282.3 1760.7 263.8C1764.3 245.3 1768.2 229.5 1771.3 216.3C1774.4 203.1 1776.6 193 1779.2 184.7C1781.9 176.3 1784.5 167.1 1787.1 166.2C1789.8 165.3 1792.8 172.8 1795 179.4C1797.2 186 1798.6 193.5 1800.3 205.8C1802.1 218.1 1803.8 235.7 1805.6 253.3C1807.4 270.8 1809.1 291.1 1810.9 311.3C1812.6 331.5 1813.8 343.2 1816.1 374.6C1818.5 406.1 1822.9 472.6 1825.1 500C1827.3 527.4 1827.9 525.2 1829.4 538.8C1831 552.5 1832.8 567.6 1834.6 581.9C1836.4 596.3 1838.3 610.7 1840.2 625.1C1842.2 639.4 1844.2 655.3 1846.3 668.2C1848.3 681.1 1850.4 691.6 1852.7 702.7C1855.1 713.8 1857.8 726.4 1860.5 735C1863.2 743.7 1865.9 749.1 1869.1 754.4C1872.3 759.8 1875.9 763.9 1879.9 767.4C1883.8 770.8 1888.5 773.1 1892.8 775.1C1897.1 777.2 1901.8 777.9 1905.8 779.5C1909.7 781 1913 782 1916.5 784.6C1920.1 787.3 1924.1 793.6 1927.3 795.4C1930.6 797.2 1932.7 794 1936 795.4C1939.2 796.9 1942.8 801.4 1946.7 804C1950.7 806.7 1955.4 810.7 1959.7 811.4C1964 812.1 1967.9 808.6 1972.6 808.4C1977.3 808.1 1983 809.4 1987.7 809.6C1992.4 809.9 1995.6 809.5 2000.6 809.6C2005.7 809.8 2012.5 809.6 2017.9 810.5C2023.3 811.4 2028.1 814.1 2033 814.8C2037.9 815.5 2044.9 814.8 2047.2 814.8" stroke="#000000"/>
</g>
<rect x="297.3" y="42" width="1750.1" height="1412" fill="none" stroke="#1c1c1c" stroke-width="5.3"/>
<path d="M297.3 1454v27M384.8 1454v13M472.3 1454v27M559.8 1454v13M647.3 1454v27M734.8 1454v13M822.3 1454v27M909.8 1454v13M997.3 1454v27M1084.8 1454v13M1172.4 1454v27M1259.9 1454v13M1347.4 1454v27M1434.9 1454v13M1522.4 1454v27M1609.9 1454v13M1697.4 1454v27M1784.9 1454v13M1872.4 1454v27M1959.9 1454v13M2047.4 1454v27" stroke="#111" stroke-width="5" fill="none"/>
<g class="b" font-size="72" text-anchor="middle">
<text x="297.3" y="1558.5">200</text>
<text x="472.3" y="1558.5">180</text>
<text x="647.3" y="1558.5">160</text>
<text x="822.3" y="1558.5">140</text>
<text x="997.3" y="1558.5">120</text>
<text x="1172.4" y="1558.5">100</text>
<text x="1347.4" y="1558.5">80</text>
<text x="1522.4" y="1558.5">60</text>
<text x="1697.4" y="1558.5">40</text>
<text x="1872.4" y="1558.5">20</text>
<text x="2047.4" y="1558.5">0</text>
</g>
<text class="b" font-size="70" text-anchor="middle" transform="translate(1173 1689.5) scale(1.048 1)"><tspan font-size="46" dy="-30">13</tspan><tspan dy="30">C chemical shift (ppm)</tspan></text>
<text class="b" font-size="74" text-anchor="middle" transform="translate(219 794) rotate(-90)">Intensity (a.u.)</text>
<line x1="323" y1="90" x2="475" y2="90" stroke="#000000" stroke-width="5.3"/>
<text font-size="73" x="508" y="117">OF-2.5%</text>
<line x1="323" y1="179.5" x2="475" y2="179.5" stroke="#f94a4a" stroke-width="5.3"/>
<text font-size="73" x="508" y="206.5">OF-5%</text>
<line x1="323" y1="270" x2="475" y2="270" stroke="#0000ff" stroke-width="5.3"/>
<text font-size="73" x="508" y="297">OF-10%</text>
<line x1="323" y1="360" x2="475" y2="360" stroke="#850585" stroke-width="5.3"/>
<text font-size="73" x="508" y="387">OF-21%</text>
<text font-size="60" x="342.5" y="681.5">-C=O</text>
<line x1="434" y1="692.5" x2="472.3" y2="742.7" stroke="#7a7a7a" stroke-width="2.6"/>
<path d="M490.5 766.5L465.9 747.5L478.7 737.8Z" fill="#000"/>
<text font-size="60" x="540.5" y="537">-C=N</text>
<line x1="625.5" y1="560" x2="678.5" y2="599.5" stroke="#7a7a7a" stroke-width="2.6"/>
<path d="M702.5 617.5L673.7 606L683.2 593.1Z" fill="#000"/>
<text font-size="60" x="798.5" y="552">-C=C</text>
<line x1="868.5" y1="584" x2="855.8" y2="631" stroke="#7a7a7a" stroke-width="2.6"/>
<path d="M848 660L848.1 629L863.5 633.1Z" fill="#000"/>
<text font-size="60" x="924.5" y="290">-CN</text>
<line x1="973" y1="320" x2="989.7" y2="386.9" stroke="#7a7a7a" stroke-width="2.6"/>
<path d="M997 416L982 388.8L997.5 385Z" fill="#000"/>
<text font-size="60" x="1120.5" y="465">-C=CH</text>
<line x1="1108.5" y1="457" x2="1048" y2="497" stroke="#7a7a7a" stroke-width="2.6"/>
<path d="M1023 513.5L1043.6 490.3L1052.4 503.6Z" fill="#000"/>
<text font-size="60" x="1505" y="114.5">-CH/CH<tspan font-size="40" dy="14">2</tspan></text>
<line x1="1734.5" y1="94" x2="1771.7" y2="142.2" stroke="#7a7a7a" stroke-width="2.6"/>
<path d="M1790 166L1765.3 147.1L1778 137.4Z" fill="#000"/>
</g>
<text class="cap" font-size="76" text-anchor="middle" x="1120.5" y="1845.5">(<tspan class="b">a</tspan>)</text>
<g id="chart-b" filter="url(#soft)">
<clipPath id="clipB"><rect x="427.4" y="1982.5" width="1719.8" height="1386.5"/></clipPath>
<g clip-path="url(#clipB)">
<path d="M427.4 2237.6L599.4 2226.5L771.4 2222.8L1115.3 2204.3L1871.3 2180.3" fill="none" stroke="#000" stroke-width="4.9" stroke-linejoin="round"/>
<path d="M427.4 2769.7C434.3 2762.4 454.9 2740.4 468.6 2725.9C482.4 2711.5 496.1 2696.9 509.9 2683C523.6 2669.1 537.4 2655.4 551.1 2642.6C564.9 2629.8 578.6 2617.6 592.4 2606.3C606.1 2595.1 619.9 2584.9 633.6 2574.9C647.4 2564.9 661.1 2555.8 674.9 2546.3C688.6 2536.9 702.4 2527.6 716.1 2518.2C729.9 2508.7 743.6 2499.2 757.4 2489.7C771.1 2480.1 784.9 2470.6 798.6 2461.1C812.4 2451.6 826.1 2442.1 839.9 2432.8C853.6 2423.5 867.4 2414.2 881.1 2405.1C894.9 2396 908.6 2387 922.3 2378.3C936.1 2369.6 949.8 2361 963.6 2352.8C977.3 2344.5 991.1 2336.5 1004.8 2328.8C1018.6 2321.2 1032.3 2313.8 1046.1 2306.8C1059.8 2299.7 1073.6 2293.1 1087.3 2286.6C1101.1 2280.2 1114.8 2274.1 1128.6 2268.2C1142.3 2262.4 1156.1 2256.8 1169.8 2251.4C1183.6 2246 1197.3 2240.8 1211.1 2235.8C1224.8 2230.8 1238.6 2226.1 1252.3 2221.4C1266.1 2216.7 1279.8 2212.3 1293.6 2207.9C1307.3 2203.5 1321.1 2199.2 1334.8 2195C1348.6 2190.8 1362.3 2186.7 1376.1 2182.7C1389.8 2178.6 1403.5 2174.6 1417.3 2170.7C1431 2166.7 1444.8 2162.8 1458.5 2158.9C1472.3 2155 1486 2151.2 1499.8 2147.4C1513.5 2143.6 1527.3 2139.9 1541 2136.2C1554.8 2132.4 1568.5 2128.7 1582.3 2125.1C1596 2121.4 1609.8 2117.8 1623.5 2114.2C1637.3 2110.5 1651 2107 1664.8 2103.4C1678.5 2099.8 1692.3 2096.3 1706 2092.7C1719.8 2089.2 1733.5 2085.7 1747.3 2082.1C1761 2078.6 1774.8 2075.1 1788.5 2071.6C1802.3 2068.1 1816 2064.6 1829.8 2061.1C1843.5 2057.6 1864.1 2052.3 1871 2050.6" fill="none" stroke="#ff4a4a" stroke-width="4.4"/>
<path d="M427.4 3276.6C434.3 3273 454.9 3262.4 468.6 3255C482.4 3247.6 496.1 3240.1 509.9 3232.3C523.6 3224.6 537.4 3216.7 551.1 3208.6C564.9 3200.6 578.6 3192.3 592.4 3183.9C606.1 3175.6 619.9 3166.9 633.6 3158.4C647.4 3149.8 661.1 3141.1 674.9 3132.7C688.6 3124.2 702.4 3115.8 716.1 3107.8C729.9 3099.9 743.6 3092.1 757.4 3084.9C771.1 3077.7 784.9 3071 798.6 3064.7C812.4 3058.3 826.1 3052.5 839.9 3047C853.6 3041.5 867.4 3036.4 881.1 3031.6C894.9 3026.9 908.6 3022.5 922.3 3018.3C936.1 3014.1 949.8 3010.3 963.6 3006.6C977.3 3003 991.1 2999.6 1004.8 2996.4C1018.6 2993.2 1032.3 2990.2 1046.1 2987.3C1059.8 2984.4 1073.6 2981.7 1087.3 2979C1101.1 2976.3 1114.8 2973.8 1128.6 2971.4C1142.3 2968.9 1156.1 2966.6 1169.8 2964.3C1183.6 2962 1197.3 2959.9 1211.1 2957.8C1224.8 2955.7 1238.6 2953.6 1252.3 2951.7C1266.1 2949.8 1279.8 2947.9 1293.6 2946.1C1307.3 2944.3 1321.1 2942.5 1334.8 2940.8C1348.6 2939.1 1362.3 2937.5 1376.1 2935.9C1389.8 2934.3 1403.5 2932.8 1417.3 2931.3C1431 2929.7 1444.8 2928.3 1458.5 2926.8C1472.3 2925.4 1486 2924 1499.8 2922.6C1513.5 2921.2 1527.3 2919.8 1541 2918.4C1554.8 2917.1 1568.5 2915.7 1582.3 2914.4C1596 2913 1609.8 2911.7 1623.5 2910.3C1637.3 2909 1651 2907.6 1664.8 2906.2C1678.5 2904.8 1692.3 2903.5 1706 2902C1719.8 2900.6 1733.5 2899.2 1747.3 2897.7C1761 2896.2 1774.8 2894.7 1788.5 2893.2C1802.3 2891.7 1816 2890.1 1829.8 2888.4C1843.5 2886.8 1864.1 2884.2 1871 2883.4" fill="none" stroke="#0000ff" stroke-width="4.9"/>
<rect x="412.4" y="2222.6" width="30" height="30" fill="#000"/>
<rect x="584.4" y="2211.5" width="30" height="30" fill="#000"/>
<rect x="756.4" y="2207.8" width="30" height="30" fill="#000"/>
<rect x="1100.3" y="2189.3" width="30" height="30" fill="#000"/>
<rect x="1856.3" y="2165.3" width="30" height="30" fill="#000"/>
<circle cx="427.4" cy="2770" r="16.5" fill="#ff0000"/>
<circle cx="599.4" cy="2592.6" r="16.5" fill="#ff0000"/>
<circle cx="771.4" cy="2481.6" r="16.5" fill="#ff0000"/>
<circle cx="1115.3" cy="2241.3" r="16.5" fill="#ff0000"/>
<circle cx="1871.3" cy="2051.3" r="16.5" fill="#ff0000"/>
<path d="M427.4 3253.8L447.4 3288.2L407.4 3288.2Z" fill="#0000ff"/>
<path d="M599.4 3160.4L619.4 3194.8L579.4 3194.8Z" fill="#0000ff"/>
<path d="M771.4 3032.9L791.4 3067.3L751.4 3067.3Z" fill="#0000ff"/>
<path d="M1115.3 2941.3L1135.3 2975.7L1095.3 2975.7Z" fill="#0000ff"/>
<path d="M1871.3 2861.8L1891.3 2896.2L1851.3 2896.2Z" fill="#0000ff"/>
</g>
<rect x="427.4" y="1982.5" width="1719.8" height="1386.5" fill="none" stroke="#111" stroke-width="5.3"/>
<path d="M427.4 1982.5h-28M427.4 2074.9h-14M427.4 2167.4h-28M427.4 2259.8h-14M427.4 2352.2h-28M427.4 2444.7h-14M427.4 2537.1h-28M427.4 2629.5h-14M427.4 2722h-28M427.4 2814.4h-14M427.4 2906.8h-28M427.4 2999.3h-14M427.4 3091.7h-28M427.4 3184.1h-14M427.4 3276.6h-28M427.4 3369h-14M427.4 3369v27M599.4 3369v13M771.4 3369v27M943.3 3369v13M1115.3 3369v27M1287.3 3369v13M1459.3 3369v27M1631.3 3369v13M1803.2 3369v27M1975.2 3369v13M2147.2 3369v27" stroke="#111" stroke-width="5" fill="none"/>
<g class="b" font-size="78" text-anchor="end">
<text x="380" y="2006.5">70</text>
<text x="380" y="2191.4">60</text>
<text x="380" y="2376.2">50</text>
<text x="380" y="2561.1">40</text>
<text x="380" y="2746">30</text>
<text x="380" y="2930.8">20</text>
<text x="380" y="3115.7">10</text>
<text x="380" y="3300.6">0</text>
</g>
<g class="b" font-size="78" text-anchor="middle">
<text x="427.4" y="3476">0</text>
<text x="771.4" y="3476">5</text>
<text x="1115.3" y="3476">10</text>
<text x="1459.3" y="3476">15</text>
<text x="1803.2" y="3476">20</text>
<text x="2147.2" y="3476">25</text>
</g>
<text class="b" font-size="76" text-anchor="middle" transform="translate(1287.5 3584.5) scale(1.038 1)">R<tspan font-size="50" dy="20">O2</tspan><tspan dy="-20"> in the environmental medium (%)</tspan></text>
<text class="b" font-size="78.7" text-anchor="middle" transform="translate(135.5 2685.7) rotate(-90)">Relative content of characteristic</text>
<text class="b" font-size="79" text-anchor="middle" transform="translate(235 2673.5) rotate(-90)">functional groups (%)</text>
<text class="i" font-size="80" x="1921" y="2072">G<tspan font-size="52" dy="21" dx="-3">h</tspan></text>
<text class="i" font-size="80" x="1918" y="2259.5">R<tspan font-size="56" dy="21">Cl</tspan></text>
<text class="i" font-size="80" x="1902" y="2833.5">R<tspan font-size="55" dy="21">-C=O</tspan></text>
</g>
<text class="cap" font-size="76" text-anchor="middle" x="1120.5" y="3741.5">(<tspan class="b">b</tspan>)</text>
</svg>
</body></html>
